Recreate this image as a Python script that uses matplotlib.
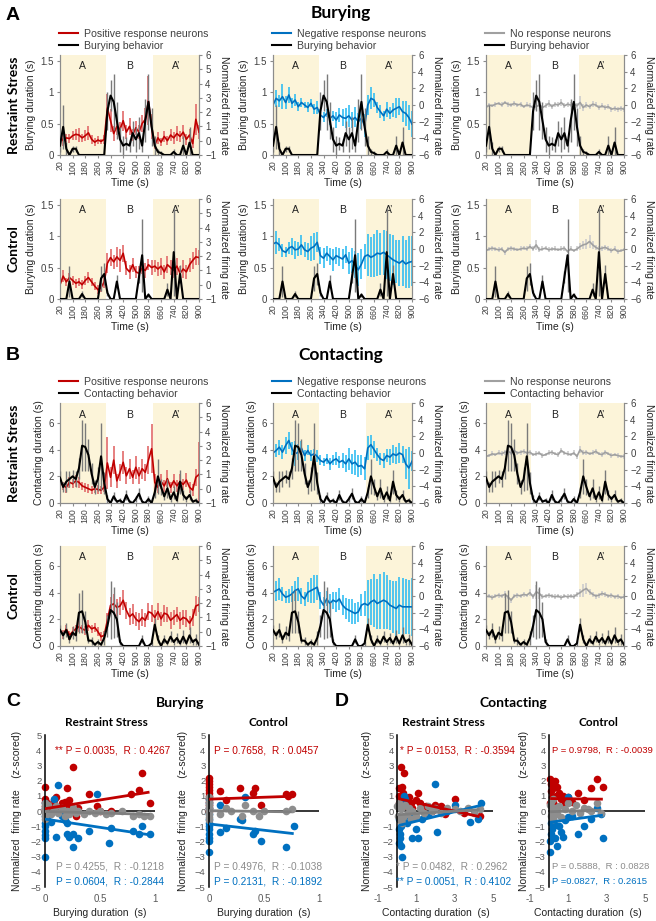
import matplotlib
matplotlib.use("Agg")
import numpy as np
import matplotlib.pyplot as plt
from matplotlib.lines import Line2D

plt.rcParams['font.family'] = ['Liberation Sans', 'DejaVu Sans']

W, H = 656, 921

# ---------------- time course data (20 s bins) ----------------
TIME = [20, 40, 60, 80, 100, 120, 140, 160, 180, 200, 220, 240, 260, 280, 300,
        320, 340, 360, 380, 400, 420, 440, 460, 480, 500, 520, 540, 560, 580, 600,
        620, 640, 660, 680, 700, 720, 740, 760, 780, 800, 820, 840, 860, 880, 900]
TICK_TIMES = [20, 100, 180, 260, 340, 420, 500, 580, 660, 740, 820, 900]
ZONES = [(20, 310, 'A'), (310, 610, 'B'), (610, 900, 'A\u2019')]

# behaviour (duration, s)
bur_rs_beh = [0.15, 0.45, 0.10, 0.00, 0.10, 0.10, 0.00, 0.00, 0.00, 0.00, 0.00, 0.00, 0.00, 0.00, 0.00,
              0.70, 0.95, 0.85, 0.55, 0.25, 0.15, 0.18, 0.15, 0.35, 0.25, 0.35, 0.15, 0.55, 0.85, 0.45,
              0.15, 0.05, 0.03, 0.00, 0.00, 0.00, 0.05, 0.00, 0.00, 0.15, 0.00, 0.20, 0.00, 0.00, 0.00]
bur_rs_beh_err = [0.10, 0.35, 0.10, 0.00, 0.05, 0.05, 0.00, 0.00, 0.00, 0.00, 0.00, 0.00, 0.00, 0.00, 0.00,
                  0.30, 0.25, 0.45, 0.30, 0.20, 0.15, 0.10, 0.10, 0.20, 0.20, 0.25, 0.10, 0.35, 0.45, 0.30,
                  0.15, 0.05, 0.03, 0.00, 0.00, 0.00, 0.05, 0.00, 0.00, 0.15, 0.00, 0.25, 0.00, 0.00, 0.00]
bur_ct_beh = [0.00, 0.00, 0.00, 0.28, 0.00, 0.00, 0.00, 0.08, 0.00, 0.00, 0.00, 0.00, 0.00, 0.33, 0.40,
              0.10, 0.00, 0.00, 0.28, 0.00, 0.00, 0.00, 0.00, 0.00, 0.00, 0.35, 0.70, 0.00, 0.07, 0.00,
              0.00, 0.00, 0.00, 0.00, 0.15, 0.00, 0.75, 0.00, 0.40, 0.00, 0.00, 0.00, 0.00, 0.00, 0.00]
bur_ct_beh_err = [0.00, 0.00, 0.00, 0.25, 0.00, 0.00, 0.00, 0.05, 0.00, 0.00, 0.00, 0.00, 0.00, 0.20, 0.18,
                  0.05, 0.00, 0.00, 0.10, 0.00, 0.00, 0.00, 0.00, 0.00, 0.00, 0.10, 0.58, 0.00, 0.03, 0.00,
                  0.00, 0.00, 0.00, 0.00, 0.10, 0.00, 0.70, 0.00, 0.15, 0.00, 0.00, 0.00, 0.00, 0.00, 0.00]
con_rs_beh = [1.9, 1.2, 1.6, 1.8, 2.0, 1.8, 2.6, 4.3, 4.2, 3.6, 2.2, 1.2, 1.8, 3.5, 1.5,
              0.3, 0.0, 0.5, 0.1, 0.2, 0.0, 0.6, 0.1, 0.0, 0.3, 0.7, 0.1, 0.0, 0.3, 0.0,
              0.8, 2.0, 1.2, 0.5, 1.1, 0.3, 0.8, 0.2, 1.6, 0.6, 0.3, 0.6, 0.1, 0.2, 0.0]
con_rs_beh_err = [0.5, 0.4, 0.8, 0.6, 0.5, 0.6, 0.8, 1.9, 1.8, 1.2, 0.8, 0.5, 0.9, 2.5, 0.8,
                  0.3, 0.0, 0.3, 0.1, 0.2, 0.0, 0.4, 0.1, 0.0, 0.2, 0.4, 0.1, 0.0, 0.2, 0.0,
                  0.4, 1.3, 0.6, 0.3, 0.7, 0.2, 0.5, 0.1, 0.9, 0.4, 0.2, 0.4, 0.1, 0.2, 0.0]
con_ct_beh = [1.2, 0.8, 1.2, 0.5, 1.0, 0.8, 2.5, 2.6, 1.8, 0.4, 0.4, 0.1, 0.3, 0.1, 0.6,
              1.5, 2.7, 2.5, 2.0, 0.3, 0.0, 0.0, 0.0, 0.0, 0.0, 0.0, 0.5, 0.0, 0.0, 0.2,
              1.6, 0.5, 0.0, 0.5, 0.2, 0.7, 0.3, 0.6, 0.2, 0.7, 0.2, 0.8, 0.3, 0.5, 0.1]
con_ct_beh_err = [0.4, 0.3, 0.5, 0.3, 0.5, 0.4, 1.5, 1.6, 0.8, 0.2, 0.3, 0.1, 0.2, 0.1, 0.5,
                  0.8, 2.2, 1.9, 1.3, 0.2, 0.0, 0.0, 0.0, 0.0, 0.0, 0.0, 0.3, 0.0, 0.0, 0.2,
                  0.5, 0.3, 0.0, 0.3, 0.1, 0.4, 0.2, 0.4, 0.1, 0.5, 0.1, 0.6, 0.2, 0.4, 0.1]

# normalized firing rate
bur_rs_pos = [0.3, 0.0, 0.2, 0.15, 0.35, 0.45, 0.4, 0.2, 0.35, 0.55, 0.1, -0.1, 0.05, -0.05, 0.1,
              2.3, 1.4, 0.5, 1.0, 0.8, 1.4, 0.6, 1.0, 0.4, 0.9, 0.6, 1.2, 1.5, 2.8, 1.0,
              -0.3, 0.2, -0.1, 0.3, 0.0, 0.4, 0.2, 0.5, 0.3, 0.6, 0.1, 0.4, -0.2, 1.5, 0.6]
bur_rs_pos_err = [0.3, 0.4, 0.3, 0.3, 0.3, 0.4, 0.5, 0.3, 0.4, 0.5, 0.3, 0.3, 0.3, 0.2, 0.3,
                  1.0, 0.8, 0.5, 0.6, 0.5, 0.7, 0.5, 0.6, 0.4, 0.5, 0.5, 0.6, 0.8, 1.7, 0.9,
                  0.3, 0.4, 0.3, 0.4, 0.3, 0.4, 0.4, 0.5, 0.4, 0.5, 0.4, 0.4, 0.3, 1.1, 0.5]
bur_rs_neg = [0.0, 0.8, 0.5, 1.0, 0.3, 1.2, 0.2, 0.6, -0.2, 0.3, 0.0, -0.3, 0.2, -0.5, -0.3,
              -1.2, -1.5, -1.0, -1.6, -1.3, -1.8, -1.2, -1.5, -1.6, -1.3, -1.8, -1.5, -2.0, -1.6, -2.5,
              0.0, 0.8, 0.6, -0.3, -0.8, -1.3, -0.5, -1.0, -0.6, -0.4, -0.2, -0.8, -1.0, -1.5, -2.3]
bur_rs_neg_err = [0.8, 1.0, 0.7, 1.5, 0.8, 1.0, 0.6, 0.7, 0.5, 0.5, 0.4, 0.6, 0.5, 0.6, 0.8,
                  0.7, 0.6, 0.5, 0.8, 0.6, 1.0, 0.8, 1.0, 1.2, 1.3, 1.0, 1.2, 1.0, 1.3, 1.4,
                  1.2, 1.3, 0.8, 0.7, 0.8, 0.6, 0.9, 0.7, 0.8, 1.2, 1.0, 1.3, 1.5, 1.5, 1.6]
bur_rs_non = [-0.3, 0.0, -0.1, 0.1, 0.2, 0.0, 0.3, 0.1, 0.0, 0.2, 0.0, 0.1, -0.2, 0.0, -0.1,
              -0.3, -0.2, 0.0, -0.3, -0.1, 0.2, -0.2, 0.1, 0.0, 0.3, -0.1, 0.1, 0.0, 0.2, -0.1,
              0.3, -0.3, 0.0, -0.2, 0.1, 0.0, -0.3, -0.1, -0.3, -0.2, -0.5, -0.4, -0.5, -0.4, -0.5]
bur_rs_non_err = [0.3, 0.2, 0.2, 0.3, 0.2, 0.3, 0.2, 0.3, 0.2, 0.3, 0.2, 0.3, 0.2, 0.3, 0.3,
                  0.3, 0.4, 0.3, 0.3, 0.3, 0.4, 0.3, 0.3, 0.3, 0.4, 0.3, 0.3, 0.3, 0.3, 0.3,
                  0.8, 0.4, 0.4, 0.3, 0.4, 0.3, 0.3, 0.3, 0.3, 0.3, 0.3, 0.3, 0.3, 0.3, 0.3]

bur_ct_pos = [0.0, 0.6, 0.2, 0.5, 0.3, 0.1, 0.2, 0.0, 0.3, 0.5, 0.2, -0.1, -0.35, -0.2, 0.2,
              1.5, 1.9, 1.6, 1.95, 1.7, 2.2, 1.15, 0.9, 1.4, 0.9, 0.8, 1.15, 1.0, 1.4, 1.2,
              1.3, 1.1, 1.3, 0.9, 1.4, 1.2, 1.0, 1.3, 0.8, 1.1, 0.9, 1.4, 1.7, 1.95, 1.9]
bur_ct_pos_err = [0.3, 0.4, 0.3, 0.3, 0.3, 0.3, 0.3, 0.3, 0.3, 0.4, 0.3, 0.3, 0.3, 0.3, 0.4,
                  0.7, 0.6, 0.5, 0.7, 0.8, 0.6, 0.5, 0.5, 0.5, 0.4, 0.5, 0.4, 0.5, 0.4, 0.5,
                  0.4, 0.5, 0.6, 0.5, 0.6, 0.5, 0.5, 0.6, 0.5, 0.6, 0.5, 0.5, 0.6, 0.6, 0.5]
bur_ct_neg = [0.6, 0.8, 0.5, -0.2, -0.4, 0.1, 0.3, -0.1, 0.0, 0.5, -0.1, -0.3, 0.1, 0.3, 0.8,
              -0.8, -1.1, -0.5, -0.9, -1.3, -0.8, -1.0, -1.2, -0.7, -1.7, -1.4, -1.9, -2.5, -1.8, -0.9,
              -0.7, -1.0, -0.8, -0.5, -0.6, -0.4, -0.7, -1.0, -1.3, -1.5, -1.7, -1.4, -1.8, -1.6, -1.5]
bur_ct_neg_err = [1.2, 1.4, 0.8, 0.8, 0.6, 0.7, 1.0, 1.1, 0.8, 1.2, 0.9, 1.0, 1.5, 1.6, 1.2,
                  1.0, 1.2, 0.9, 1.0, 1.3, 1.0, 1.1, 1.2, 1.0, 1.3, 1.5, 1.6, 2.0, 1.8, 1.5,
                  2.5, 2.4, 2.6, 2.8, 2.5, 2.7, 2.9, 2.8, 3.0, 2.6, 2.8, 3.0, 2.9, 3.1, 3.0]
bur_ct_non = [-0.2, 0.0, 0.1, 0.0, -0.1, 0.0, -0.4, 0.0, 0.1, 0.0, -0.1, 0.0, 0.1, 0.0, 0.3,
              0.0, 0.5, -0.1, 0.0, 0.1, -0.1, 0.0, 0.0, -0.1, 0.0, 0.1, -0.3, 0.0, -0.2, 0.0,
              0.3, 0.5, 0.6, 0.9, 0.5, 0.2, 0.0, 0.1, 0.2, 0.0, -0.2, 0.0, -0.3, -0.2, -0.1]
bur_ct_non_err = [0.3, 0.2, 0.3, 0.2, 0.3, 0.2, 0.3, 0.2, 0.3, 0.2, 0.2, 0.3, 0.2, 0.3, 0.3,
                  0.3, 0.6, 0.3, 0.3, 0.2, 0.3, 0.2, 0.3, 0.2, 0.3, 0.3, 0.2, 0.3, 0.2, 0.3,
                  0.4, 0.5, 0.6, 0.8, 0.5, 0.3, 0.3, 0.3, 0.3, 0.3, 0.3, 0.3, 0.3, 0.2, 0.2]

con_rs_pos = [0.45, 0.2, 0.1, 0.45, 0.35, 0.55, 0.45, 0.2, 0.1, 0.0, -0.1, 0.0, -0.05, -0.1, 0.1,
              1.8, 0.8, 2.0, 0.55, 1.15, 1.85, 0.9, 1.4, 0.8, 1.5, 0.9, 1.4, 1.15, 2.0, 2.8,
              0.45, 0.1, 0.5, 0.2, 0.7, 0.1, 0.55, 0.2, 0.5, 0.3, 0.6, 0.1, -0.1, 0.8, 1.0]
con_rs_pos_err = [0.4, 0.3, 0.4, 0.4, 0.3, 0.4, 0.4, 0.3, 0.3, 0.3, 0.3, 0.3, 0.3, 0.3, 0.3,
                  1.8, 0.7, 1.0, 0.5, 0.6, 0.8, 0.6, 0.7, 0.5, 0.8, 0.6, 0.7, 0.6, 1.0, 1.7,
                  0.6, 0.4, 0.5, 0.4, 0.6, 0.4, 0.5, 0.4, 0.5, 0.4, 0.5, 0.4, 0.4, 0.6, 2.3]
con_rs_neg = [0.0, 0.3, 0.7, 0.1, 0.9, 1.5, 0.5, -0.1, 0.1, 0.6, -0.3, 0.3, -0.3, -0.1, -0.4,
              -0.9, -1.1, -0.7, -1.3, -0.9, -0.7, -1.1, -0.9, -1.3, -0.7, -1.3, -1.1, -1.6, -1.5, -1.9,
              0.6, 1.0, 0.4, -0.2, -0.7, -0.9, -0.3, -0.5, -0.1, -0.3, 0.0, -0.2, -1.3, -1.8, -1.0]
con_rs_neg_err = [0.7, 0.8, 0.9, 0.8, 1.0, 1.0, 0.8, 1.5, 1.0, 0.8, 0.7, 0.6, 0.7, 0.6, 0.7,
                  0.6, 0.5, 0.6, 0.7, 0.6, 0.8, 0.7, 0.9, 1.0, 1.3, 1.2, 1.5, 1.3, 1.2, 1.4,
                  1.4, 1.2, 1.0, 0.8, 0.7, 0.9, 0.8, 1.0, 1.1, 1.0, 1.2, 1.0, 1.8, 2.5, 1.2]
con_rs_non = [-0.4, -0.3, -0.1, -0.2, 0.0, -0.1, 0.1, 0.2, 0.0, 0.3, 0.0, 0.1, 0.2, 0.0, 0.1,
              -0.2, -0.1, 0.0, -0.3, -0.2, 0.0, 0.1, -0.1, -0.2, 0.3, 0.0, -0.1, -0.2, 0.0, -0.4,
              0.4, 0.0, 0.1, -0.1, 0.0, 0.2, -0.1, -0.2, 0.1, -0.1, -0.3, -0.2, -0.3, -0.4, -0.4]
con_rs_non_err = [0.3, 0.2, 0.3, 0.2, 0.3, 0.3, 0.3, 0.4, 0.3, 0.3, 0.2, 0.3, 0.3, 0.2, 0.3,
                  0.2, 0.3, 0.2, 0.3, 0.2, 0.3, 0.3, 0.2, 0.3, 0.3, 0.2, 0.3, 0.2, 0.3, 0.3,
                  0.4, 0.3, 0.3, 0.2, 0.3, 0.3, 0.2, 0.3, 0.3, 0.2, 0.3, 0.2, 0.3, 0.2, 0.3]

con_ct_pos = [0.1, -0.2, 0.2, -0.25, 0.0, 0.2, 0.35, 0.2, 0.1, 0.45, 0.2, 0.3, 0.0, -0.35, -0.25,
              0.8, 1.85, 1.95, 1.7, 1.8, 2.2, 1.5, 1.05, 1.25, 0.9, 0.7, 1.0, 0.8, 1.4, 1.3,
              1.0, 1.4, 0.9, 1.3, 1.2, 0.8, 1.0, 1.2, 0.8, 1.0, 0.9, 0.6, 1.0, 1.8, 1.9]
con_ct_pos_err = [0.4, 0.3, 0.3, 0.3, 0.3, 0.3, 0.4, 0.3, 0.3, 0.4, 0.3, 0.3, 0.3, 0.3, 0.3,
                  0.5, 0.6, 0.7, 0.6, 0.6, 0.7, 0.6, 0.6, 0.7, 0.5, 0.6, 0.6, 0.5, 0.6, 0.6,
                  0.5, 0.6, 0.5, 0.6, 0.5, 0.6, 0.5, 0.5, 0.6, 0.5, 0.6, 0.5, 0.6, 0.7, 0.5]
con_ct_neg = [0.45, 0.65, 0.85, 0.25, -0.15, 0.0, 0.25, 0.65, 0.85, 0.0, -0.35, 0.45, 0.65, 0.85, 1.05,
              -0.5, -1.1, -0.35, -0.9, -0.5, -0.7, -0.35, -1.1, -1.5, -1.7, -1.9, -2.1, -1.9, -1.1, -0.9,
              -1.1, -0.7, -0.5, -0.9, -0.7, -0.5, -0.7, -1.1, -1.3, -1.5, -1.1, -1.3, -1.3, -1.3, -1.3]
con_ct_neg_err = [1.0, 1.2, 1.3, 0.8, 0.7, 0.8, 1.0, 1.2, 1.4, 1.0, 0.8, 1.2, 1.5, 1.7, 1.5,
                  1.0, 1.0, 0.9, 1.1, 1.0, 1.2, 1.3, 1.2, 1.3, 1.4, 1.5, 1.3, 1.2, 1.3, 1.5,
                  3.0, 2.8, 3.2, 3.0, 3.3, 3.4, 3.2, 3.0, 3.1, 3.3, 3.4, 3.5, 3.3, 3.2, 3.5]
con_ct_non = [-0.1, 0.0, -0.2, 0.0, 0.1, 0.0, 0.2, -0.1, -0.5, 0.0, 0.1, 0.0, 0.2, 0.1, 0.4,
              -0.1, 0.5, 0.3, -0.1, 0.0, 0.1, 0.0, -0.1, 0.0, -0.2, 0.0, -0.1, 0.0, -0.1, 0.2,
              0.4, 0.7, 0.9, 0.5, 0.2, 0.0, 0.1, 0.3, 0.2, 0.0, 0.1, -0.1, 0.0, -0.2, -0.1]
con_ct_non_err = [0.3, 0.2, 0.3, 0.2, 0.3, 0.2, 0.4, 0.2, 0.3, 0.2, 0.3, 0.2, 0.3, 0.2, 0.4,
                  0.3, 0.8, 0.6, 0.3, 0.2, 0.3, 0.2, 0.3, 0.2, 0.3, 0.2, 0.3, 0.2, 0.3, 0.3,
                  0.5, 0.8, 0.7, 0.4, 0.3, 0.3, 0.3, 0.3, 0.3, 0.2, 0.3, 0.2, 0.3, 0.2, 0.3]

# ---------------- correlation data ----------------
# C: burying, restraint stress
crs_red_x = [0, 0, 0, 0, 0, 0.02, 0.05, 0.08, 0.1, 0.12, 0.15, 0.18, 0.2, 0.2, 0.22, 0.25, 0.28, 0.3,
             0.4, 0.47, 0.5, 0.6, 0.78, 0.85, 0.88, 0.95]
crs_red_y = [1.6, 0.8, 0.6, 0.3, 0.1, 0.5, 0.3, 0.7, 0.9, 0.2, 0.5, 0.6, 1.5, 0.4, 0.7, 2.9, -0.3, 0.2,
             1.1, 0.3, 0.0, 0.0, 1.1, 1.4, 2.5, 0.5]
crs_blue_x = [0, 0, 0, 0, 0, 0, 0, 0, 0, 0.02, 0.05, 0.08, 0.1, 0.12, 0.15, 0.18, 0.2, 0.2, 0.22, 0.25,
              0.25, 0.3, 0.4, 0.47, 0.58, 0.6, 0.8, 0.85, 0.88, 0.95]
crs_blue_y = [0.5, 0.2, -0.3, -0.8, -1.0, -1.3, -1.6, -1.8, -3.0, -0.5, -0.7, 0.8, -1.7, 1.7, -0.3, -0.6,
              -0.8, -1.5, -1.7, -1.5, -2.4, -1.8, -1.3, 1.1, -2.1, -1.1, -1.3, -1.5, -1.0, -1.5]
crs_gray_x = [0, 0, 0, 0, 0, 0, 0.03, 0.05, 0.07, 0.1, 0.12, 0.15, 0.18, 0.2, 0.22, 0.25, 0.28, 0.3,
              0.35, 0.4, 0.45, 0.5, 0.55, 0.6, 0.7, 0.8, 0.85, 0.9, 0.95]
crs_gray_y = [0.5, 0.3, 0.1, -0.1, -0.3, -0.5, 0.4, -0.2, 0.0, 0.3, -0.1, 0.2, -0.3, 0.0, -0.2, 0.2, -0.1,
              0.0, -0.2, 0.0, -0.1, 0.0, -0.2, -0.1, 0.0, -0.3, -0.2, -0.3, -0.3]
crs_fits = [(0.15, 1.15), (-0.53, -1.09), (-0.03, -0.20)]  # (intercept, slope) red, blue, gray
crs_notes = ['** P = 0.0035,  R : 0.4267', 'P = 0.4255,  R : -0.1218', 'P = 0.0604,  R : -0.2844']

# C: burying, control
cct_red_x = [0, 0, 0, 0, 0, 0, 0, 0, 0, 0, 0, 0, 0.1, 0.15, 0.28, 0.4, 0.42, 0.47, 0.7, 0.72, 0.75]
cct_red_y = [2.2, 2.0, 1.8, 1.6, 1.4, 1.2, 1.0, 0.8, 0.6, 0.4, 0.2, 0.0, 1.3, 0.7, 1.5, 1.2, 1.5, 0.4,
             1.1, 1.0, 1.1]
cct_blue_x = [0, 0, 0, 0, 0, 0, 0, 0, 0, 0, 0, 0, 0.1, 0.1, 0.15, 0.28, 0.3, 0.33, 0.4, 0.42, 0.47,
              0.7, 0.77]
cct_blue_y = [0.8, 0.5, 0.2, -0.2, -0.5, -0.8, -1.0, -1.2, -1.5, -1.8, -2.0, -2.7, 0.4, -1.4, -1.1,
              -0.5, -0.6, 0.9, -1.5, -1.3, -2.0, -2.4, -1.0]
cct_gray_x = [0, 0, 0, 0, 0, 0, 0, 0, 0.1, 0.15, 0.2, 0.3, 0.33, 0.4, 0.45, 0.5, 0.7, 0.75]
cct_gray_y = [0.9, 0.6, 0.4, 0.2, 0.0, -0.2, -0.4, -0.6, -0.2, 0.2, 0.0, -0.3, 0.4, 0.0, -0.3, 0.0,
              0.0, 0.1]
cct_fits = [(0.78, 0.25), (-0.85, -0.83), (0.02, -0.10)]
cct_notes = ['P = 0.7658,  R : 0.0457', 'P = 0.4976,  R : -0.1038', 'P = 0.2131,  R : -0.1892']

# D: contacting, restraint stress
drs_red_x = [0.1, 0.1, 0.15, 0.2, 0.25, 0.3, 0.35, 0.4, 0.5, 0.6, 0.7, 0.8, 1.0, 1.1, 1.2, 1.5, 1.8,
             2.0, 2.3, 2.5, 3.0, 3.5, 4.3, 0.1, 0.2]
drs_red_y = [1.5, 1.0, 0.8, 2.9, 1.6, 1.2, 2.5, 0.6, 0.3, 0.9, 0.5, 0.2, 0.7, 1.2, 0.5, 0.3, 0.0,
             0.4, 0.3, -0.2, 0.8, -0.1, -0.3, 0.5, 0.3]
drs_blue_x = [0.1, 0.1, 0.15, 0.2, 0.25, 0.2, 0.3, 0.35, 0.4, 0.5, 0.6, 0.8, 1.0, 1.1, 1.3, 1.6, 2.0,
              2.1, 2.6, 3.0, 3.8, 4.2, 4.4, 0.1, 0.15]
drs_blue_y = [-1.2, -2.1, -1.5, -2.3, -3.0, -1.0, -0.5, 1.0, 0.8, -0.8, -0.3, -1.8, -1.2, -1.8, -0.5,
              -0.2, 1.8, -1.4, 0.0, 0.4, -0.7, -0.5, 0.5, -0.5, -1.8]
drs_gray_x = [0.0, 0.05, 0.1, 0.15, 0.2, 0.3, 0.4, 0.5, 0.6, 0.7, 0.8, 1.0, 1.2, 1.4, 1.6, 1.8, 2.0,
              2.3, 2.6, 3.0, 3.3, 3.7, 4.0, 4.3, 0.25]
drs_gray_y = [0.3, -0.3, 0.5, -0.6, 0.1, -0.4, 0.4, -0.2, 0.2, -0.5, 0.0, -0.3, 0.2, -0.1, 0.3, 0.0,
              0.2, -0.1, 0.2, 0.1, 0.0, 0.2, -0.1, 0.1, -0.8]
drs_fits = [(0.83, -0.28), (-0.98, 0.31), (-0.25, 0.08)]
drs_notes = ['* P = 0.0153,  R : -0.3594', '* P = 0.0482,  R : 0.2962', '** P = 0.0051,  R : 0.4102']

# D: contacting, control
dct_red_x = [0.05, 0.1, 0.1, 0.15, 0.2, 0.2, 0.3, 0.35, 0.4, 0.5, 0.6, 0.7, 0.8, 1.0, 1.2, 1.5, 1.8,
             2.2, 2.5, 2.8, 0.05, 0.3]
dct_red_y = [2.1, 1.8, 1.3, 0.9, 1.5, 0.6, 2.0, 1.0, 1.6, 1.2, 0.8, 1.0, 0.5, 0.9, 0.6, 1.2, 0.7,
             1.5, 2.1, 1.6, 0.5, 0.3]
dct_blue_x = [0.05, 0.05, 0.1, 0.1, 0.15, 0.2, 0.3, 0.4, 0.5, 0.6, 0.7, 0.8, 1.0, 1.0, 1.2, 1.5, 1.8,
              2.2, 2.5, 2.7, 2.8, 0.3]
dct_blue_y = [-2.7, -2.0, -1.5, -0.8, -1.2, -0.5, -1.8, -2.3, -1.0, -1.4, -1.7, -0.6, -0.4, 0.9, -0.3,
              -1.5, -1.0, -0.5, 0.2, -0.2, -1.8, -0.9]
dct_gray_x = [0.05, 0.1, 0.1, 0.2, 0.3, 0.4, 0.5, 0.6, 0.8, 1.0, 1.2, 1.4, 1.6, 1.8, 2.0, 2.2, 2.5,
              2.7, 0.2, 0.15]
dct_gray_y = [0.4, -0.3, 0.6, -0.5, 0.2, -0.2, 0.3, -0.4, 0.1, 0.5, 0.0, 0.4, -0.1, 0.2, 0.1, 0.0,
              0.5, -0.1, 0.8, 0.0]
dct_fits = [(0.82, -0.015), (-0.75, 0.17), (-0.05, 0.04)]
dct_notes = ['P = 0.9798,  R : -0.0039', 'P = 0.5888,  R : 0.0828', 'P =0.0827,  R : 0.2615']

# ---------------- styles ----------------
RED, RED_ERR = '#C00000', '#E26A6A'
BLUE, BLUE_ERR = '#0070C0', '#33BDF2'
GRAY, GRAY_ERR = '#A0A0A0', '#CCCCCC'
DOT_GRAY = '#8E8E8E'
SHADE = '#FCF4D9'
AXIS = '#8C8C8C'
TEXT = '#404040'
TITLE_FONT = ['Lato', 'DejaVu Sans']


def rect(x0, y0, x1, y1):
    return [x0 / W, 1 - y1 / H, (x1 - x0) / W, (y1 - y0) / H]


def ftext(fig, x, y, s, **kw):
    fig.text(x / W, 1 - y / H, s, **kw)


def time_panel(fig, box, beh, beh_err, rate, rate_err, color, ecolor, task, positive, legend=None):
    axr = fig.add_axes(rect(*box))
    axl = axr.twinx()
    axr.yaxis.tick_right()
    axr.yaxis.set_label_position('right')
    axl.yaxis.tick_left()
    axl.yaxis.set_label_position('left')

    trans = axr.get_xaxis_transform()
    for i, (a, b, name) in enumerate(ZONES):
        if i != 1:
            axr.axvspan(a, b, color=SHADE, lw=0, zorder=0)
        axr.text((a + b) / 2, 0.885, name, transform=trans, ha='center', va='center',
                 fontsize=7.5, color='#222222')

    axr.errorbar(TIME, rate, yerr=rate_err, color=color, ecolor=ecolor, lw=1.2,
                 elinewidth=1.2, capsize=0, zorder=2)
    axl.errorbar(TIME, beh, yerr=beh_err, color='black', ecolor='#7A7A7A', lw=1.5,
                 elinewidth=1.0, capsize=0, zorder=3)

    axr.set_xlim(20, 900)
    axr.set_xticks(TICK_TIMES)
    axr.set_xticklabels([str(t) for t in TICK_TIMES], rotation=90, fontsize=6.3, color=TEXT)
    axr.tick_params(axis='x', length=2, color=AXIS, pad=1.5)

    if positive:
        axr.set_ylim(-1, 6)
        axr.set_yticks([-1, 0, 1, 2, 3, 4, 5, 6])
    else:
        axr.set_ylim(-6, 6)
        axr.set_yticks([-6, -4, -2, 0, 2, 4, 6])
    if task == 'bur':
        axl.set_ylim(0, 1.6)
        axl.set_yticks([0, 0.5, 1, 1.5])
        axl.set_yticklabels(['0', '0.5', '1', '1.5'])
        axl.set_ylabel('Burying duration (s)', fontsize=7.5, color='#222222', labelpad=3)
    else:
        axl.set_ylim(0, 7.5)
        axl.set_yticks([0, 2, 4, 6])
        axl.set_ylabel('Contacting duration (s)', fontsize=7.5, color='#222222', labelpad=3)

    for ax in (axr, axl):
        ax.spines['top'].set_visible(False)
        for side in ('left', 'right', 'bottom'):
            ax.spines[side].set_color(AXIS)
            ax.spines[side].set_linewidth(0.8)
        ax.tick_params(axis='y', length=2.5, color=AXIS, labelsize=7, labelcolor=TEXT, pad=2)

    axr.set_ylabel('Normalized firing rate', rotation=270, va='bottom', fontsize=7.5,
                   color='#222222', labelpad=2)
    axr.set_xlabel('Time (s)', fontsize=7.5, color='#222222', labelpad=2)

    if legend is not None:
        handles = [Line2D([0], [0], color=color, lw=1.5), Line2D([0], [0], color='black', lw=1.5)]
        axl.legend(handles, legend, loc='lower left', bbox_to_anchor=(-0.01, 1.04), frameon=False,
                   fontsize=7.6, handlelength=1.8, handletextpad=0.6, labelspacing=0.2,
                   borderaxespad=0, borderpad=0, labelcolor=TEXT)


def scatter_panel(fig, box, xlim, xticks, xticklabels, groups, fits, notes, note_x, xlabel, ylab_x,
                  note_size=7.3):
    ax = fig.add_axes(rect(*box))
    colors = [RED, BLUE, DOT_GRAY]
    for c, (xs, ys) in zip(colors, groups):
        ax.scatter(xs, ys, s=30, color=c, lw=0, clip_on=False, zorder=2)
    line_colors = [RED, BLUE, '#7F7F7F']
    for c, (xs, ys), (b0, b1) in zip(line_colors, groups, fits):
        xr = np.array([min(xs), max(xs)])
        ax.plot(xr, b0 + b1 * xr, color=c, lw=2, zorder=3, solid_capstyle='butt')

    ax.set_xlim(*xlim)
    ax.set_ylim(-5, 5)
    ax.axhline(0, xmin=(0 - xlim[0]) / (xlim[1] - xlim[0]), xmax=1, color='black', lw=1.1, zorder=1)
    for side in ('top', 'right', 'bottom'):
        ax.spines[side].set_visible(False)
    ax.spines['left'].set_position(('data', 0))
    ax.spines['left'].set_color('black')
    ax.spines['left'].set_linewidth(1.1)
    ax.set_yticks(range(-5, 6))
    ax.set_xticks(xticks)
    ax.set_xticklabels(xticklabels)
    ax.tick_params(axis='y', length=0, labelsize=6.8, labelcolor='#595959', pad=2.5)
    ax.tick_params(axis='x', length=0, labelsize=7, labelcolor='#595959', pad=5)
    ax.patch.set_visible(False)

    ax.set_ylabel('Normalized  firing rate    (z-scored)', fontsize=7.5, color='#222222')
    ax.yaxis.set_label_coords(ylab_x, 0.5)
    ax.set_xlabel(xlabel, fontsize=7.5, color='#222222', labelpad=3)

    note_y = [4.0, -3.62, -4.62]
    for c, s, ny, nx in zip([RED, '#8C8C8C', BLUE], notes, note_y, note_x):
        ax.text(nx, ny, s, color=c, fontsize=note_size, va='center', ha='left', clip_on=False)


fig = plt.figure(figsize=(W / 100, H / 100), dpi=100)

COLS = [(60, 199), (273, 412), (486, 624)]
ROWS = {'bur_rs': (55, 155), 'bur_ct': (199, 299), 'con_rs': (403, 503), 'con_ct': (546, 646)}

panels = [
    ('bur_rs', bur_rs_beh, bur_rs_beh_err, [(bur_rs_pos, bur_rs_pos_err), (bur_rs_neg, bur_rs_neg_err), (bur_rs_non, bur_rs_non_err)], 'bur', 'Burying behavior'),
    ('bur_ct', bur_ct_beh, bur_ct_beh_err, [(bur_ct_pos, bur_ct_pos_err), (bur_ct_neg, bur_ct_neg_err), (bur_ct_non, bur_ct_non_err)], 'bur', None),
    ('con_rs', con_rs_beh, con_rs_beh_err, [(con_rs_pos, con_rs_pos_err), (con_rs_neg, con_rs_neg_err), (con_rs_non, con_rs_non_err)], 'con', 'Contacting behavior'),
    ('con_ct', con_ct_beh, con_ct_beh_err, [(con_ct_pos, con_ct_pos_err), (con_ct_neg, con_ct_neg_err), (con_ct_non, con_ct_non_err)], 'con', None),
]
styles = [(RED, RED_ERR, True, 'Positive response neurons'),
          (BLUE, BLUE_ERR, False, 'Negative response neurons'),
          (GRAY, GRAY_ERR, False, 'No response neurons')]

for key, beh, beh_err, series, task, beh_name in panels:
    y0, y1 = ROWS[key]
    for (x0, x1), (rate, err), (c, ec, pos, name) in zip(COLS, series, styles):
        legend = [name, beh_name] if beh_name else None
        time_panel(fig, (x0, y0, x1, y1), beh, beh_err, rate, err, c, ec, task, pos, legend)

# group / row titles
ftext(fig, 6, 15, 'A', fontsize=14, fontweight='bold', va='center')
ftext(fig, 341, 13, 'Burying', fontsize=12.5, fontweight='bold', family=TITLE_FONT, ha='center', va='center')
ftext(fig, 6, 356, 'B', fontsize=14, fontweight='bold', va='center')
ftext(fig, 341, 355, 'Contacting', fontsize=12.5, fontweight='bold', family=TITLE_FONT, ha='center', va='center')
for label, yc in [('Restraint Stress', 105), ('Control', 249), ('Restraint Stress', 453), ('Control', 596)]:
    ftext(fig, 14, yc, label, fontsize=10, fontweight='bold', family=TITLE_FONT, rotation=90,
          ha='center', va='center')

# correlation panels
scatter_panel(fig, (45, 735, 155, 887), (0, 1), [0, 0.5, 1], ['0', '0.5', '1'],
              [(crs_red_x, crs_red_y), (crs_blue_x, crs_blue_y), (crs_gray_x, crs_gray_y)],
              crs_fits, crs_notes, [0.09, 0.1, 0.1], 'Burying duration  (s)', -0.205)
scatter_panel(fig, (209, 735, 319, 887), (0, 1), [0, 0.5, 1], ['0', '0.5', '1'],
              [(cct_red_x, cct_red_y), (cct_blue_x, cct_blue_y), (cct_gray_x, cct_gray_y)],
              cct_fits, cct_notes, [0.05, 0.05, 0.05], 'Burying duration  (s)', -0.19)
scatter_panel(fig, (378, 735, 493, 887), (-1, 5), [-1, 1, 3, 5], ['-1', '1', '3', '5'],
              [(drs_red_x, drs_red_y), (drs_blue_x, drs_blue_y), (drs_gray_x, drs_gray_y)],
              drs_fits, drs_notes, [0.15, -0.05, -0.05], 'Contacting duration  (s)', -0.05)
scatter_panel(fig, (530, 735, 645, 887), (-1, 5), [-1, 1, 3, 5], ['-1', '1', '3', '5'],
              [(dct_red_x, dct_red_y), (dct_blue_x, dct_blue_y), (dct_gray_x, dct_gray_y)],
              dct_fits, dct_notes, [0.15, 0.15, 0.15], 'Contacting duration  (s)', -0.01,
              note_size=6.8)

ftext(fig, 6, 701, 'C', fontsize=14, fontweight='bold', va='center')
ftext(fig, 180, 703, 'Burying', fontsize=10, fontweight='bold', family=TITLE_FONT, ha='center', va='center')
ftext(fig, 106, 722, 'Restraint Stress', fontsize=8.5, fontweight='bold', family=TITLE_FONT, ha='center', va='center')
ftext(fig, 268, 722, 'Control', fontsize=8.5, fontweight='bold', family=TITLE_FONT, ha='center', va='center')
ftext(fig, 335, 701, 'D', fontsize=14, fontweight='bold', va='center')
ftext(fig, 513, 703, 'Contacting', fontsize=10, fontweight='bold', family=TITLE_FONT, ha='center', va='center')
ftext(fig, 443, 722, 'Restraint Stress', fontsize=8.5, fontweight='bold', family=TITLE_FONT, ha='center', va='center')
ftext(fig, 598, 722, 'Control', fontsize=8.5, fontweight='bold', family=TITLE_FONT, ha='center', va='center')

fig.savefig('out.png', dpi=100)
